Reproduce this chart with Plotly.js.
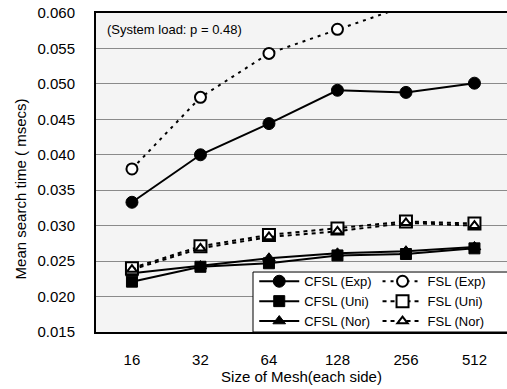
<!DOCTYPE html>
<html>
<head>
<meta charset="utf-8">
<script src="https://cdn.plot.ly/plotly-3.0.1.min.js"></script>
<style>html,body{margin:0;padding:0;background:#fff;}#chart{width:507px;height:389px;}</style>
</head>
<body>
<div id="chart"></div>
<script>
// Data
const meshSizes = ['16', '32', '64', '128', '256', '512'];
const cfslExp = [0.0333, 0.0400, 0.0444, 0.0491, 0.0488, 0.0501];
const cfslUni = [0.0221, 0.0242, 0.0247, 0.0258, 0.0260, 0.0268];
const cfslNor = [0.0233, 0.0243, 0.0254, 0.0261, 0.0264, 0.0270];
const fslExp  = [0.0380, 0.0481, 0.0543, 0.0577, 0.0610, 0.0630];
const fslUni  = [0.0240, 0.0271, 0.0287, 0.0296, 0.0306, 0.0303];
const fslNor  = [0.0238, 0.0268, 0.0284, 0.0292, 0.0304, 0.0300];
const seriesNames = ['CFSL (Exp)', 'CFSL (Uni)', 'CFSL (Nor)', 'FSL (Exp)', 'FSL (Uni)', 'FSL (Nor)'];
const yTickVals = [0.015, 0.020, 0.025, 0.030, 0.035, 0.040, 0.045, 0.050, 0.055, 0.060];
const noteText = '(System load: p = 0.48)';
const xTitle = 'Size of Mesh(each side)';
const yTitle = 'Mean search time ( msecs)';

const FONT = '"Liberation Sans", Arial, Helvetica, sans-serif';

function solid(name, y, symbol, size) {
  return {
    x: meshSizes, y: y, name: name, type: 'scatter', mode: 'lines+markers',
    legend: 'legend',
    line: {color: '#000', width: 2},
    marker: {symbol: symbol, size: size, color: '#000', line: {color: '#000', width: 1}}
  };
}
function open(name, y, symbol, size, dash) {
  return {
    x: meshSizes, y: y, name: name, type: 'scatter', mode: 'lines+markers',
    legend: 'legend2',
    line: {color: '#000', width: 2, dash: dash},
    marker: {symbol: symbol, size: size, color: '#fff', line: {color: '#000', width: 2}}
  };
}

const traces = [
  solid(seriesNames[0], cfslExp, 'circle', 12),
  solid(seriesNames[1], cfslUni, 'square', 11),
  solid(seriesNames[2], cfslNor, 'triangle-up', 11),
  open(seriesNames[3], fslExp, 'circle', 11, '3px,5px'),
  open(seriesNames[4], fslUni, 'square', 12, '4px,4px'),
  open(seriesNames[5], fslNor, 'triangle-up', 9, '4px,4px')
];

const layout = {
  width: 507, height: 389,
  margin: {l: 96, r: 0, t: 12.5, b: 57},
  paper_bgcolor: '#fff',
  plot_bgcolor: '#f4f4f4',
  font: {family: FONT, color: '#000', size: 15},
  showlegend: true,
  xaxis: {
    type: 'category',
    range: [-0.525, 5.475],
    showgrid: false,
    zeroline: false,
    showline: true, mirror: true, linecolor: '#000', linewidth: 2,
    ticks: '', ticklabelstandoff: 13,
    tickfont: {size: 15, family: FONT},
    title: {text: xTitle, font: {size: 15, family: FONT}, standoff: 4}
  },
  yaxis: {
    range: [0.015, 0.060],
    tickvals: yTickVals,
    tickformat: '.3f',
    showgrid: true, gridcolor: '#8a8a8a', gridwidth: 1,
    zeroline: false,
    showline: true, linecolor: '#000', linewidth: 2,
    ticks: '', ticklabelstandoff: 16,
    tickfont: {size: 15, family: FONT}
  },
  legend: {
    x: 0.385, y: 0.206, xanchor: 'left', yanchor: 'top',
    bgcolor: 'rgba(0,0,0,0)', borderwidth: 0,
    font: {size: 13, family: FONT}, itemwidth: 40, tracegroupgap: 0,
    traceorder: 'normal'
  },
  legend2: {
    x: 0.685, y: 0.206, xanchor: 'left', yanchor: 'top',
    bgcolor: 'rgba(0,0,0,0)', borderwidth: 0,
    font: {size: 13, family: FONT}, itemwidth: 40, tracegroupgap: 0,
    traceorder: 'normal'
  },
  shapes: [{
    type: 'rect', xref: 'paper', yref: 'paper',
    x0: 0.382, x1: 1.01, y0: 0, y1: 0.188,
    fillcolor: '#fff', line: {color: '#000', width: 1}, layer: 'above'
  }],
  annotations: [
    {text: noteText, xref: 'paper', yref: 'paper', x: 0.022, y: 0.948,
     xanchor: 'left', yanchor: 'middle', showarrow: false,
     font: {size: 13, family: FONT}},
    {text: yTitle, xref: 'paper', yref: 'paper', x: -0.185, y: 0.45,
     xanchor: 'center', yanchor: 'middle', textangle: -90, showarrow: false,
     font: {size: 15, family: FONT}}
  ]
};

Plotly.newPlot('chart', traces, layout, {staticPlot: true, displayModeBar: false});
</script>
</body>
</html>
